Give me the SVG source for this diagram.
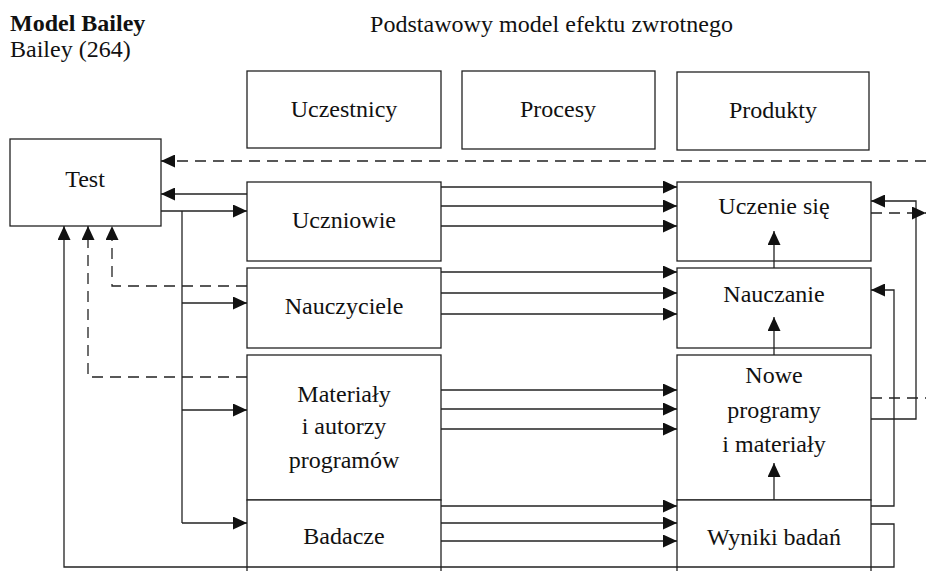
<svg xmlns="http://www.w3.org/2000/svg" width="926" height="571" viewBox="0 0 926 571">
<defs>
<marker id="ah" markerUnits="userSpaceOnUse" markerWidth="14" markerHeight="13" refX="14" refY="6.5" orient="auto">
<path d="M0,0 L14,6.5 L0,13 z" fill="#111"/>
</marker>
<style>
text{font-family:"Liberation Serif","Times New Roman",serif;font-size:24px;fill:#111}
.lbl{text-anchor:middle}
.box{fill:#fff;stroke:#222;stroke-width:1.3}
.c{fill:none;stroke:#222;stroke-width:1.3}
.d{fill:none;stroke:#222;stroke-width:1.3;stroke-dasharray:11 7}
.a{marker-end:url(#ah)}
</style>
</defs>
<rect width="926" height="571" fill="#fff"/>
<g id="title">
<text x="10" y="31" font-weight="bold">Model Bailey</text>
<text x="10" y="57">Bailey (264)</text>
<text x="370" y="32" textLength="363" lengthAdjust="spacing">Podstawowy model efektu zwrotnego</text>
</g>
<g id="uczestnicy"><rect class="box" x="247" y="71" width="194" height="77"/><text class="lbl" x="344" y="117">Uczestnicy</text></g>
<g id="procesy"><rect class="box" x="462" y="71" width="193" height="78"/><text class="lbl" x="558" y="117">Procesy</text></g>
<g id="produkty"><rect class="box" x="677" y="72" width="192" height="78"/><text class="lbl" x="773" y="118">Produkty</text></g>
<g id="test"><rect class="box" x="10" y="139" width="151" height="87"/><text class="lbl" x="85" y="187">Test</text></g>
<g id="uczniowie"><rect class="box" x="247" y="182" width="194" height="79"/><text class="lbl" x="344" y="228">Uczniowie</text></g>
<g id="nauczyciele"><rect class="box" x="247" y="268" width="194" height="80"/><text class="lbl" x="344" y="314">Nauczyciele</text></g>
<g id="materialy"><rect class="box" x="247" y="355" width="194" height="145"/><text class="lbl" x="344" y="402">Materiały</text><text class="lbl" x="344" y="434">i autorzy</text><text class="lbl" x="344" y="468">programów</text></g>
<g id="badacze"><rect class="box" x="247" y="500" width="194" height="80"/><text class="lbl" x="344" y="544">Badacze</text></g>
<g id="uczenie"><rect class="box" x="677" y="182" width="194" height="79"/><text class="lbl" x="774" y="214">Uczenie się</text></g>
<g id="nauczanie"><rect class="box" x="677" y="268" width="194" height="80"/><text class="lbl" x="774" y="302">Nauczanie</text></g>
<g id="nowe"><rect class="box" x="677" y="355" width="194" height="145"/><text class="lbl" x="774" y="383">Nowe</text><text class="lbl" x="774" y="418">programy</text><text class="lbl" x="774" y="452">i materiały</text></g>
<g id="wyniki"><rect class="box" x="677" y="500" width="194" height="80"/><text class="lbl" x="774" y="545">Wyniki badań</text></g>
<g id="connectors">
<path class="d a" d="M926,161 H161"/>
<path class="c a" d="M247,194 H161"/>
<path class="c a" d="M161,211 H247"/>
<path class="c" d="M182,211 V523"/>
<path class="c a" d="M182,303 H247"/>
<path class="c a" d="M182,410 H247"/>
<path class="c a" d="M182,523 H247"/>
<path class="d a" d="M247,286 H112 V226"/>
<path class="d a" d="M247,377 H88 V226"/>
<path class="c a" d="M871,524 H894 V567 H64 V226"/>
<path class="c a" d="M871,506 H894 V290 H871"/>
<path class="c a" d="M871,419 H916 V201 H871"/>
<path class="d a" d="M871,213 H926"/>
<path class="d" d="M871,398 H926"/>
<path class="c a" d="M441,187 H677"/>
<path class="c a" d="M441,206 H677"/>
<path class="c a" d="M441,226 H677"/>
<path class="c a" d="M441,272 H677"/>
<path class="c a" d="M441,293 H677"/>
<path class="c a" d="M441,314 H677"/>
<path class="c a" d="M441,390 H677"/>
<path class="c a" d="M441,409 H677"/>
<path class="c a" d="M441,429 H677"/>
<path class="c a" d="M441,506 H677"/>
<path class="c a" d="M441,523 H677"/>
<path class="c a" d="M441,541 H677"/>
<path class="c a" d="M774,268 V231"/>
<path class="c a" d="M774,355 V317"/>
<path class="c a" d="M774,500 V463"/>
</g>
</svg>
